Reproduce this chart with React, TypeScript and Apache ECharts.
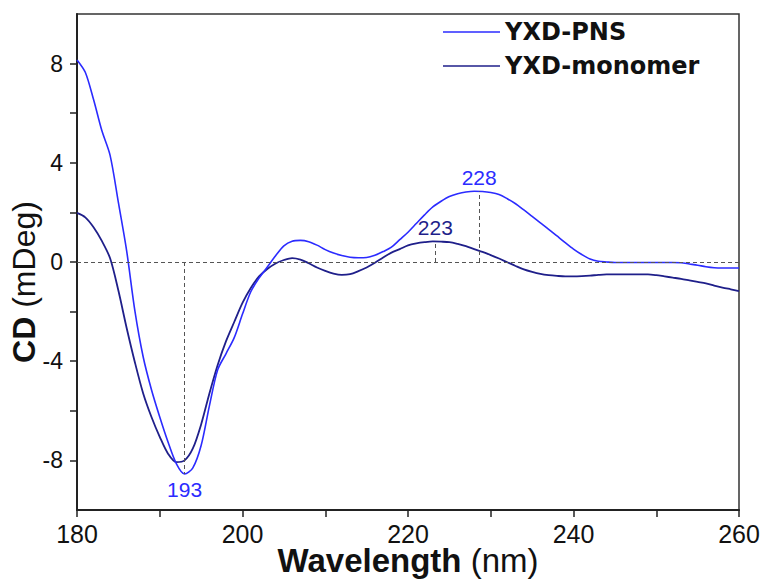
import React, { useEffect, useRef } from "react";
import * as echarts from "echarts";

const wavelengths: number[] = [];
for (let w = 180; w <= 260; w++) wavelengths.push(w);

const pnsValues = [
  8.15, 7.65, 6.55, 5.3, 4.3, 2.4, 0.45, -1.98, -3.83, -5.15,
  -6.25, -7.26, -8.13, -8.55, -8.3, -7.4, -5.8, -4.35, -3.7, -3.05,
  -2.1, -1.2, -0.65, -0.2, 0.25, 0.65, 0.84, 0.87, 0.82, 0.68,
  0.5, 0.36, 0.26, 0.19, 0.17, 0.18, 0.27, 0.42, 0.6, 0.9,
  1.2, 1.55, 1.9, 2.22, 2.45, 2.64, 2.75, 2.82, 2.85, 2.84,
  2.8, 2.72, 2.55, 2.35, 2.1, 1.84, 1.58, 1.32, 1.05, 0.78,
  0.52, 0.3, 0.12, 0.03, 0.0, -0.02, -0.02, -0.02, -0.02, -0.02,
  -0.02, -0.02, -0.02, -0.03, -0.08, -0.13, -0.19, -0.23, -0.24, -0.24,
  -0.24,
];

const monomerValues = [
  1.98, 1.8, 1.4, 0.85, 0.15, -1.15, -2.66, -4.05, -5.3, -6.25,
  -7.05, -7.73, -8.07, -8.0, -7.52, -6.55, -5.3, -4.15, -3.2, -2.42,
  -1.65, -1.05, -0.58, -0.28, -0.06, 0.08, 0.16, 0.1, -0.05, -0.22,
  -0.36, -0.47, -0.52, -0.49, -0.37, -0.22, -0.03, 0.18, 0.38, 0.52,
  0.67, 0.75, 0.8, 0.83, 0.82, 0.8, 0.73, 0.64, 0.52, 0.41,
  0.28, 0.14, -0.01, -0.16, -0.3, -0.4, -0.48, -0.53, -0.56, -0.58,
  -0.58, -0.57, -0.55, -0.52, -0.5, -0.5, -0.5, -0.5, -0.5, -0.5,
  -0.53, -0.58, -0.63, -0.68, -0.74, -0.8, -0.86, -0.95, -1.03, -1.1,
  -1.17,
];

const seriesNames = ["YXD-PNS", "YXD-monomer"];
const xTickValues = [180, 190, 200, 210, 220, 230, 240, 250, 260];
const xLabelValues = [180, 200, 220, 240, 260];
const yTickValues = [-8, -6, -4, -2, 0, 2, 4, 6, 8];
const yLabelValues = [-8, -4, 0, 4, 8];

// peak annotations: [wavelength, value]
const pnsMin = [193, -8.55];
const pnsPeak = [228.6, 2.85];
const monoPeak = [223.3, 0.83];

const BLUE = "#2b2bff";
const NAVY = "#1f1f8a";
const FONT = "'Liberation Sans', Arial, sans-serif";

export default function App() {
  const ref = useRef<HTMLDivElement>(null);
  useEffect(() => {
    if (!ref.current) return;
    const chart = echarts.init(ref.current, null, { renderer: "svg" });
    const dashed = { color: "#555", width: 1, type: [4, 3] as any };
    chart.setOption({
      animation: false,
      backgroundColor: "#fff",
      textStyle: { fontFamily: FONT },
      grid: {
        left: 77,
        right: 23,
        top: 14,
        bottom: 69,
        containLabel: false,
        outerBoundsMode: "none",
        show: true,
        borderColor: "#333",
        borderWidth: 1.5,
      },
      legend: {
        data: seriesNames,
        orient: "vertical",
        left: 438,
        top: 15,
        icon: "rect",
        itemWidth: 57,
        itemHeight: 1.5,
        itemGap: 10,
        textStyle: { fontSize: 24, fontWeight: "bold", color: "#111", fontFamily: "'DejaVu Sans', sans-serif" },
      },
      xAxis: {
        type: "value",
        min: 180,
        max: 260,
        interval: 10,
        name: "{b|Wavelength}{n| (nm)}",
        nameLocation: "middle",
        nameGap: 34,
        nameMoveOverlap: false,
        nameTextStyle: {
          lineHeight: 33,
          rich: {
            b: { fontSize: 33, lineHeight: 33, fontWeight: "bold", color: "#111", fontFamily: FONT },
            n: { fontSize: 33, lineHeight: 33, color: "#111", fontFamily: FONT },
          },
        },
        axisLine: { onZero: false, lineStyle: { color: "#222", width: 2 } },
        axisTick: { customValues: xTickValues, length: 7, lineStyle: { color: "#222", width: 1.5 } },
        axisLabel: {
          customValues: xLabelValues,
          fontSize: 25,
          color: "#111",
          margin: 11,
          fontFamily: FONT,
        },
        splitLine: { show: false },
      },
      yAxis: {
        type: "value",
        min: -10,
        max: 10,
        interval: 2,
        name: "{b|CD}{n| (mDeg)}",
        nameLocation: "middle",
        nameGap: 37,
        nameMoveOverlap: false,
        nameTextStyle: {
          padding: [0, 40, 0, 0],
          rich: {
            b: { fontSize: 32, fontWeight: "bold", color: "#111", fontFamily: FONT },
            n: { fontSize: 32, color: "#111", fontFamily: FONT },
          },
        },
        axisLine: { show: true, onZero: false, lineStyle: { color: "#222", width: 2 } },
        axisTick: { show: true, customValues: yTickValues, length: 7, lineStyle: { color: "#222", width: 1.5 } },
        axisLabel: {
          customValues: yLabelValues,
          fontSize: 23,
          color: "#111",
          margin: 14,
          fontFamily: FONT,
        },
        splitLine: { show: false },
      },
      series: [
        {
          name: seriesNames[0],
          type: "line",
          data: wavelengths.map((w, i) => [w, pnsValues[i]]),
          smooth: 0.3,
          showSymbol: false,
          symbol: "none",
          lineStyle: { color: BLUE, width: 1.6 },
          itemStyle: { color: BLUE },
          z: 3,
          markLine: {
            silent: true,
            symbol: "none",
            label: { show: false },
            lineStyle: dashed,
            data: [
              { yAxis: 0 },
              [{ coord: [pnsMin[0], 0] }, { coord: [pnsMin[0], pnsMin[1]] }],
              [{ coord: [pnsPeak[0], 0] }, { coord: [pnsPeak[0], pnsPeak[1]] }],
            ],
          },
          markPoint: {
            silent: true,
            symbol: "circle",
            symbolSize: 0,
            data: [
              {
                coord: pnsMin,
                label: { show: true, position: "bottom", distance: 5, formatter: String(pnsMin[0]), color: BLUE, fontSize: 21, fontFamily: FONT },
              },
              {
                coord: pnsPeak,
                label: { show: true, position: "top", distance: 3, formatter: "228", color: BLUE, fontSize: 21, fontFamily: FONT },
              },
            ],
          },
        },
        {
          name: seriesNames[1],
          type: "line",
          data: wavelengths.map((w, i) => [w, monomerValues[i]]),
          smooth: 0.3,
          showSymbol: false,
          symbol: "none",
          lineStyle: { color: NAVY, width: 1.8 },
          itemStyle: { color: NAVY },
          z: 2,
          markLine: {
            silent: true,
            symbol: "none",
            label: { show: false },
            lineStyle: dashed,
            data: [[{ coord: [monoPeak[0], 0] }, { coord: [monoPeak[0], monoPeak[1]] }]],
          },
          markPoint: {
            silent: true,
            symbol: "circle",
            symbolSize: 0,
            data: [
              {
                coord: monoPeak,
                label: { show: true, position: "top", distance: 3, formatter: "223", color: NAVY, fontSize: 21, fontFamily: FONT },
              },
            ],
          },
        },
      ],
    });
    return () => chart.dispose();
  }, []);
  return <div ref={ref} style={{ width: 762, height: 579, position: "absolute", left: 0, top: 0 }} />;
}
